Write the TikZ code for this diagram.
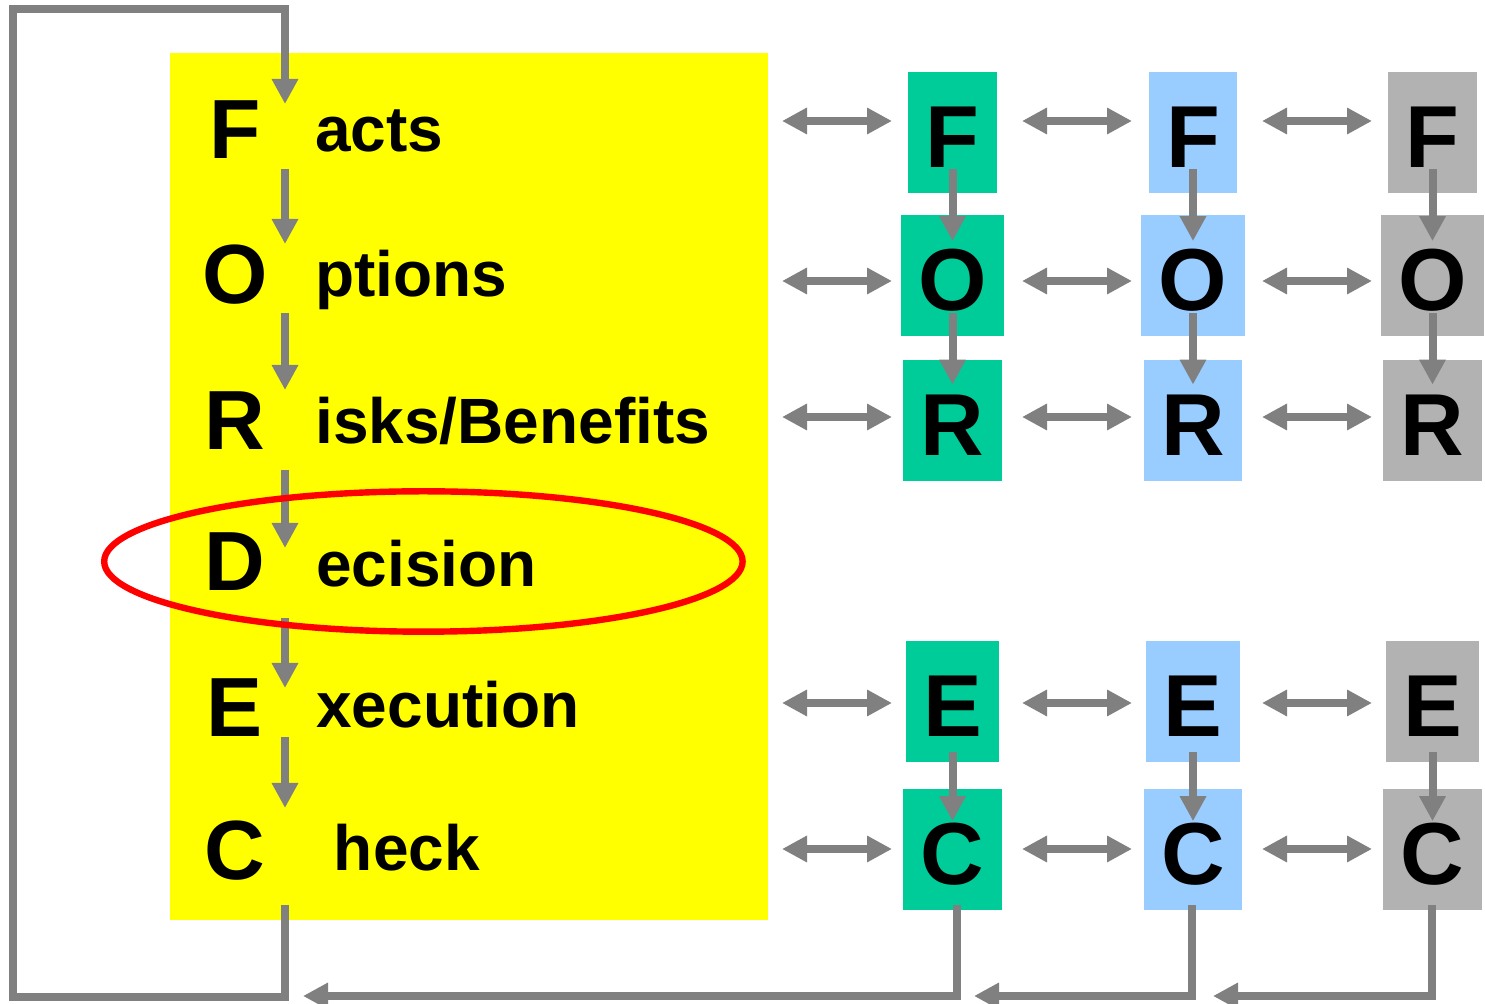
\documentclass[tikz,border=0pt]{standalone}
\usepackage{fontspec}
\setmainfont{Liberation Sans}
\usetikzlibrary{arrows.meta}
\definecolor{ylw}{HTML}{FFFF00}
\definecolor{grn}{HTML}{00CC99}
\definecolor{lblue}{HTML}{99CCFF}
\definecolor{lgray}{HTML}{B2B2B2}
\definecolor{agray}{HTML}{808080}
\definecolor{ringred}{HTML}{FF0000}
\begin{document}
\begin{tikzpicture}[x=0.5pt,y=-0.5pt,
  arr/.style={draw=agray,line width=4pt,line join=miter,-{Triangle[length=12.5pt,width=12.5pt]}},
  darr/.style={draw=agray,line width=4pt,{Triangle[length=12.5pt,width=12.5pt]}-{Triangle[length=12.5pt,width=12.5pt]}},
  big/.style={font=\fontsize{42pt}{42pt}\selectfont\bfseries,inner sep=0pt,anchor=base},
  word/.style={font=\fontsize{32pt}{32pt}\selectfont\bfseries,inner sep=0pt,anchor=base west},
  letterbox/.style={font=\fontsize{44pt}{44pt}\selectfont\bfseries,inner xsep=8.8pt,inner ysep=0pt,minimum height=60.5pt,text height=35pt,text depth=0pt}
]
\useasboundingbox (0,0) rectangle (1485,1004);
\fill[white] (0,0) rectangle (1485,1004);

% yellow panel
\node[fill=ylw,minimum width=299pt,minimum height=433.5pt,inner sep=0pt,anchor=north west] (panel) at (170,53) {};

% left letters and words
\node[big] (lF) at (235,159) {F};
\node[big] (lO) at (235,304) {O};
\node[big] (lR) at (235,450) {R};
\node[big] (lD) at (235,591) {D};
\node[big] (lE) at (235,737) {E};
\node[big] (lC) at (235,880) {C};
\node[word] (wF) at (315,152) {acts};
\node[word] (wO) at (315,297) {ptions};
\node[word] (wR) at (315,444) {isks/Benefits};
\node[word] (wD) at (316,587) {ecision};
\node[word] (wE) at (316,728) {xecution};
\node[word] (wC) at (333.5,871) {heck};

% left column arrows
\coordinate (a1s) at (285,169); \coordinate (a1e) at (285,244);
\coordinate (a2s) at (285,313); \coordinate (a2e) at (285,390);
\coordinate (a3s) at (285,470); \coordinate (a3e) at (285,548);
\coordinate (a4s) at (285,618); \coordinate (a4e) at (285,688);
\coordinate (a5s) at (285,737); \coordinate (a5e) at (285,808);
\foreach \i in {1,...,5} {\draw[arr] (a\i s) -- (a\i e);}

% feedback loop
\coordinate (loopS) at (285,905);
\coordinate (loopB) at (285,997);
\coordinate (loopBL) at (13,997);
\coordinate (loopTL) at (13,9);
\coordinate (loopTR) at (285,9);
\coordinate (loopE) at (285,104);
\draw[arr] (loopS) -- (loopB) -- (loopBL) -- (loopTL) -- (loopTR) -- (loopE);

% right boxes
\foreach \c/\x/\col in {1/952.5/grn,2/1193/lblue,3/1432.5/lgray} {
  \node[letterbox,fill=\col] (F\c) at (\x,132.5) {F};
  \node[letterbox,fill=\col] (O\c) at (\x,276) {O};
  \node[letterbox,fill=\col] (R\c) at (\x,420.5) {R};
  \node[letterbox,fill=\col] (E\c) at (\x,701.5) {E};
  \node[letterbox,fill=\col] (C\c) at (\x,849.5) {C};
}

% vertical arrows inside columns
\foreach \c in {1,2,3} {
  \draw[arr] ([yshift=12pt]F\c.south) -- ([yshift=-13pt]O\c.north);
  \draw[arr] ([yshift=12pt]O\c.south) -- ([yshift=-12.5pt]R\c.north);
  \draw[arr] ([yshift=5pt]E\c.south) -- ([yshift=-16.3pt]C\c.north);
}

% horizontal double arrows
\foreach \y in {121,281,417,703,849} {
  \foreach \xa/\xb in {782/892,1022/1132,1262/1372} {
    \draw[darr] (\xa,\y) -- (\xb,\y);
  }
}

% return lines at the bottom
\coordinate (r1) at (303,996);
\coordinate (r2) at (974,996);
\coordinate (r3) at (1213,996);
\draw[arr] ([xshift=2.25pt,yshift=2.5pt]C1.south) |- (r1);
\draw[arr] ([yshift=2.5pt,xshift=-0.5pt]C2.south) |- (r2);
\draw[arr] ([yshift=2.5pt,xshift=-0.5pt]C3.south) |- (r3);

% red ring around Decision
\draw[ringred,line width=3.2pt] (423.4,561.5) ellipse [x radius=159.6pt,y radius=35.1pt];
\end{tikzpicture}
\end{document}
